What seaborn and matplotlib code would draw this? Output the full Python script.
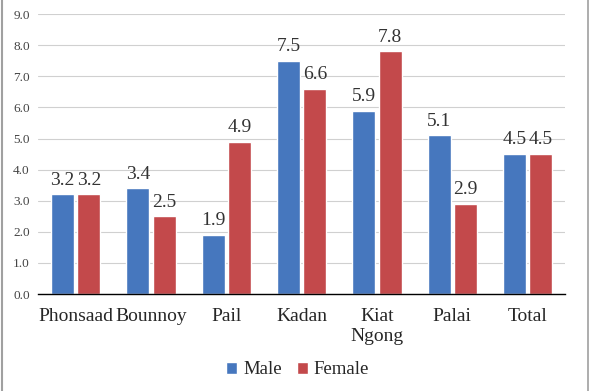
import pandas as pd
import seaborn as sns
from matplotlib import pyplot as plt
from matplotlib.lines import Line2D
from matplotlib.ticker import FormatStrFormatter

villages = ['Phonsaad', 'Bounnoy', 'Pail', 'Kadan', 'Kiat\nNgong', 'Palai', 'Total']
male = [3.2, 3.4, 1.9, 7.5, 5.9, 5.1, 4.5]
female = [3.2, 2.5, 4.9, 6.6, 7.8, 2.9, 4.5]

df = pd.DataFrame({
    'Village': villages * 2,
    'Sex': ['Male'] * len(villages) + ['Female'] * len(villages),
    'Value': male + female,
})

sns.set_style('white')
plt.rcParams['font.family'] = 'serif'
plt.rcParams['font.serif'] = ['Liberation Serif', 'DejaVu Serif']

fig = plt.figure(figsize=(5.95, 3.91), dpi=100)
ax = fig.add_axes([0.064, 0.248, 0.886, 0.716])

sns.barplot(data=df, x='Village', y='Value', hue='Sex',
            palette={'Male': '#4677be', 'Female': '#c3494b'}, saturation=1,
            width=0.7, gap=0.13, ax=ax, legend=True)

for c in ax.containers:
    ax.bar_label(c, fmt='%.1f', padding=4, fontsize=14, color='#333333')

ax.set_ylim(0, 9)
ax.set_yticks([i for i in range(10)])
ax.yaxis.set_major_formatter(FormatStrFormatter('%.1f'))
ax.grid(axis='y', color='#d0d0d0', linewidth=0.8)
ax.set_axisbelow(True)
ax.tick_params(axis='y', labelsize=9.5, colors='#444444', length=0, pad=6)
ax.tick_params(axis='x', labelsize=14, length=0, pad=10)
for t in ax.get_xticklabels():
    t.set_linespacing(1.2)
ax.set_xlabel('')
ax.set_ylabel('')
for s in ['top', 'right', 'left']:
    ax.spines[s].set_visible(False)
ax.spines['bottom'].set_color('black')
ax.spines['bottom'].set_linewidth(1.0)
ax.set_xlim(-0.5, 6.5)

ax.get_legend().remove()
handles, labels = ax.get_legend_handles_labels()
fig.legend(handles[:2], labels[:2], loc='center', bbox_to_anchor=(0.5, 0.054),
           ncol=2, frameon=False, fontsize=13.5, handlelength=0.6, handleheight=0.6,
           handletextpad=0.3, columnspacing=0.8)

# thin grey frame edges on left and right like the source screenshot
fig.add_artist(Line2D([0.003, 0.003], [0, 1], color='#a0a0a0', linewidth=1.5))
fig.add_artist(Line2D([0.989, 0.989], [0, 1], color='#a0a0a0', linewidth=1.2))

fig.savefig('out.png', dpi=100)
